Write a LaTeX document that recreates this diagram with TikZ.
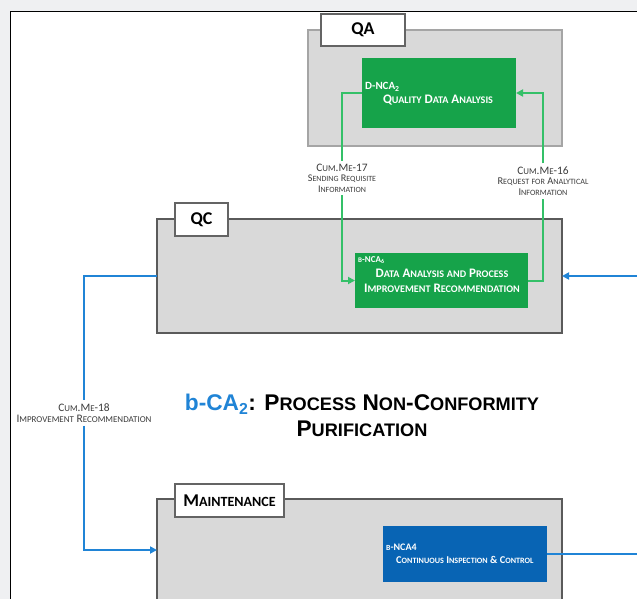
\documentclass[tikz,border=0pt]{standalone}
\usepackage{fontspec}
\setmainfont{Carlito}
\newfontfamily\titlefont{Liberation Sans}
\usepackage{graphicx}
\usetikzlibrary{arrows.meta,calc}

\definecolor{pagebg}{RGB}{239,240,242}
\definecolor{panelgray}{RGB}{217,217,217}
\definecolor{qaedge}{RGB}{165,165,165}
\definecolor{deptedge}{RGB}{90,90,90}
\definecolor{tabedge}{RGB}{100,100,100}
\definecolor{boxgreen}{RGB}{22,163,74}
\definecolor{flowgreen}{RGB}{52,192,104}
\definecolor{flowblue}{RGB}{32,132,214}
\definecolor{boxblue}{RGB}{8,100,180}
\definecolor{labeltext}{RGB}{60,60,60}

% fake small caps: lower-case run set as reduced capitals
\newcommand\lc[2][0.78]{\scalebox{#1}{\MakeUppercase{#2}}}
\newcommand\fs[1]{\fontsize{#1}{13}\selectfont}

\tikzset{
  dept/.style={draw=deptedge, line width=2pt, fill=panelgray, anchor=north west,
    inner sep=0pt, outer sep=0pt},
  tab/.style={draw=tabedge, line width=1.2pt, fill=white, anchor=north west,
    inner sep=0pt, outer sep=0pt, font=\bfseries\fontsize{18}{18}\selectfont},
  actbox/.style={fill=boxgreen, anchor=north west, inner sep=0pt, outer sep=0pt},
  bluebox/.style={fill=boxblue, anchor=north west, inner sep=0pt, outer sep=0pt},
  code/.style={text=white, anchor=west, inner sep=0pt,
    font=\bfseries\fontsize{9}{9}\selectfont},
  boxtext/.style={text=white, align=center, inner sep=0pt,
    font=\bfseries\fontsize{13}{15}\selectfont},
  flowlabel/.style={text=labeltext, align=center, inner sep=3pt},
  gflow/.style={draw=flowgreen, line width=2pt},
  bflow/.style={draw=flowblue, line width=2pt},
  tip/.style={-{Triangle[length=7pt,width=7pt]}},
}

\begin{document}
\begin{tikzpicture}[x=1pt,y=-1pt]
\useasboundingbox (0,0) rectangle (637,599);
\fill[pagebg] (0,0) rectangle (637,599);
\draw[black, fill=white, line width=1pt] (10,12) rectangle (660,630);

% departments
\node[dept, draw=qaedge, line width=1.5pt, minimum width=254, minimum height=116] (qa) at (308,30) {};
\node[dept, minimum width=405, minimum height=114] (qc) at (157,219) {};
\node[dept, minimum width=405, minimum height=102] (mnt) at (157,499) {};

\node[tab, minimum width=84, minimum height=32] (qatab) at (321,14) {QA};
\node[tab, minimum width=53, minimum height=33] (qctab) at (175,203) {QC};
\node[tab, minimum width=109, minimum height=33] (mnttab) at (175,484) {M\lc{aintenance}};

% activities
\node[actbox, minimum width=154, minimum height=70] (dnca) at (362,58) {};
\node[code, font=\bfseries\fontsize{11}{11}\selectfont] at (365,87) {D-NCA\textsubscript{2}};
\node[boxtext] at (438,100) {Q\lc{uality} D\lc{ata} A\lc{nalysis}};

\node[actbox, minimum width=173, minimum height=55] (bnca) at (355,253) {};
\node[code] at (358,260) {\lc{b}-NCA\textsubscript{6}};
\node[boxtext] at (442,281) {D\lc{ata} A\lc{nalysis} \lc{and} P\lc{rocess}\\I\lc{mprovement} R\lc{ecommendation}};

\node[bluebox, minimum width=164, minimum height=56] (insp) at (383,526) {};
\node[code, font=\bfseries\fontsize{10}{10}\selectfont] at (386,547) {\lc{b}-NCA4};
\node[code, font=\bfseries\fontsize{10.4}{11}\selectfont] at (396,560) {C\lc{ontinuous} I\lc{nspection} \& C\lc{ontrol}};

% title
\node[align=center, inner sep=0pt, font=\titlefont\bfseries\fontsize{22.7}{26}\selectfont] (title) at (362,415)
  {\textcolor{flowblue}{b-CA\textsubscript{2}}: P\lc[0.8]{rocess} N\lc[0.8]{on}-C\lc[0.8]{onformity}\\P\lc[0.8]{urification}};

% flow labels
\node[flowlabel] (m17) at (342,178)
  {{\fs{11.4}C\lc{um}.M\lc{e}-17}\\[-1.5pt]
   {\fs{10.2}S\lc{ending} R\lc{equisite}}\\[-1.5pt]
   {\fs{10.2}I\lc{nformation}}};
\node[flowlabel] (m16) at (543,181)
  {{\fs{11.4}C\lc{um}.M\lc{e}-16}\\[-1.5pt]
   {\fs{10.4}R\lc{equest} \lc{for} A\lc{nalytical}}\\[-1.5pt]
   {\fs{10.4}I\lc{nformation}}};
\node[flowlabel] (m18) at (84,413)
  {{\fs{11.4}C\lc{um}.M\lc{e}-18}\\[-0.5pt]
   {\fs{11.5}I\lc{mprovement} R\lc{ecommendation}}};

\coordinate (rin) at (640,276);
\coordinate (rout) at (640,554);

% green information flows
\draw[gflow] (dnca.west) -| (m17.north);
\draw[gflow, tip] (m17.south) |- (bnca.west);
\draw[gflow] (bnca.east) -| (m16.south);
\draw[gflow, tip] (m16.north) |- (dnca.east);

% blue flows
\draw[bflow, tip] (rin) -- (qc.east |- rin);
\draw[bflow] (qc.west) -| (m18.north);
\draw[bflow, tip] (m18.south) |- (mnt.west);
\draw[bflow] (insp.east) -- (rout);
\end{tikzpicture}
\end{document}
